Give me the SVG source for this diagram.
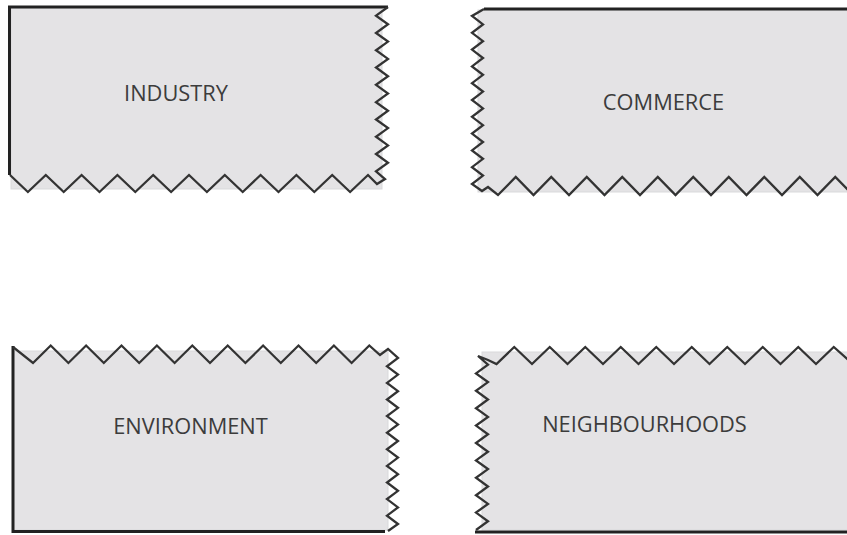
<svg xmlns="http://www.w3.org/2000/svg" width="847" height="535" viewBox="0 0 847 535">
<style>
.fill{fill:#e4e3e5;stroke:#d9d9db;stroke-width:1}
.edge{fill:none;stroke:#222;stroke-width:3}
.zig{fill:none;stroke:#333;stroke-width:2.3;stroke-linejoin:miter}
.lbl{font-family:"Open Sans","Noto Sans",sans-serif;font-size:21.8px;fill:#3c3c3c;text-anchor:middle}
</style>
<rect width="847" height="535" fill="#ffffff"/>
<g id="industry">
<rect class="fill" x="11" y="8" width="371" height="181"/>
<path class="edge" d="M8,7 H388 M9.5,6 V175"/>
<path class="zig" d="M10,175 L27.9,192 L45.8,175 L63.7,192 L81.6,175 L99.5,192 L117.4,175 L135.3,192 L153.2,175 L171.1,192 L189,175 L206.9,192 L224.8,175 L242.7,192 L260.6,175 L278.5,192 L296.4,175 L314.3,192 L332.2,175 L350.1,192 L368,175 L377,184 L385,179 L376,171.35 L388,162.7 L376,154.05 L388,145.4 L376,136.75 L388,128.1 L376,119.45 L388,110.8 L376,102.15 L388,93.5 L376,84.85 L388,76.2 L376,67.55 L388,58.9 L376,50.25 L388,41.6 L376,32.95 L388,24.3 L376,15.65 L388,7"/>
<text class="lbl" x="176" y="101">INDUSTRY</text>
</g>
<g id="commerce">
<rect class="fill" x="478" y="10" width="370" height="182"/>
<path class="edge" d="M484,9 H848"/>
<path class="zig" d="M484,9 L472,16 L483,24.4 L472,32.8 L483,41.2 L472,49.6 L483,58 L472,66.4 L483,74.8 L472,83.2 L483,91.6 L472,100 L483,108.4 L472,116.8 L483,125.2 L472,133.6 L483,142 L472,150.4 L483,158.8 L472,167.2 L483,175.6 L472,184 L482,191 L488,187 L498,195 L515.75,177 L533.5,195 L551.25,177 L569,195 L586.75,177 L604.5,195 L622.25,177 L640,195 L657.75,177 L675.5,195 L693.25,177 L711,195 L728.75,177 L746.5,195 L764.25,177 L782,195 L799.75,177 L817.5,195 L835.25,177 L853,195"/>
<text class="lbl" x="663.5" y="110">COMMERCE</text>
</g>
<g id="environment">
<rect class="fill" x="13" y="351" width="375" height="179"/>
<path class="edge" d="M13,346 V533 M11.5,531.5 H385"/>
<path class="zig" d="M13,347 L33,363 L50.7,345.5 L68.4,363 L86.1,345.5 L103.8,363 L121.5,345.5 L139.2,363 L156.9,345.5 L174.6,363 L192.3,345.5 L210,363 L227.7,345.5 L245.4,363 L263.1,345.5 L280.8,363 L298.5,345.5 L316.2,363 L333.9,345.5 L351.6,363 L369.3,345.5 L380,355 L388,349 L398,358 L387,366.3 L398,374.6 L387,382.9 L398,391.2 L387,399.5 L398,407.8 L387,416.1 L398,424.4 L387,432.7 L398,441 L387,449.3 L398,457.6 L387,465.9 L398,474.2 L387,482.5 L398,490.8 L387,499.1 L398,507.4 L387,515.7 L398,524 L388,531"/>
<text class="lbl" x="190.5" y="434">ENVIRONMENT</text>
</g>
<g id="neighbourhoods">
<rect class="fill" x="482" y="352" width="366" height="178"/>
<path class="edge" d="M475,532 H848"/>
<path class="zig" d="M853,364 L833.75,347 L816,364 L798.25,347 L780.5,364 L762.75,347 L745,364 L727.25,347 L709.5,364 L691.75,347 L674,364 L656.25,347 L638.5,364 L620.75,347 L603,364 L585.25,347 L567.5,364 L549.75,347 L532,364 L514.25,347 L496.5,364 L488,360 L478,356 L488,364.7 L476,373.4 L488,382.1 L476,390.8 L488,399.5 L476,408.2 L488,416.9 L476,425.6 L488,434.3 L476,443 L488,451.7 L476,460.4 L488,469.1 L476,477.8 L488,486.5 L476,495.2 L488,503.9 L476,512.6 L488,521.3 L476,530"/>
<text class="lbl" x="644.5" y="432">NEIGHBOURHOODS</text>
</g>
<g id="connectors"/>
</svg>
